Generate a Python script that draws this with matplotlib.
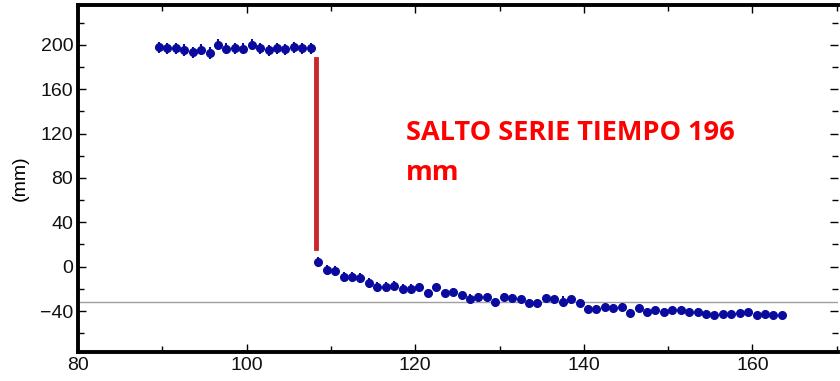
import numpy as np
import matplotlib
matplotlib.use("Agg")
import matplotlib.pyplot as plt
from matplotlib.ticker import MultipleLocator

# datos antes del salto
x_antes = [89.6, 90.6, 91.6, 92.6, 93.6, 94.6, 95.6, 96.6, 97.6, 98.6,
           99.6, 100.6, 101.6, 102.6, 103.6, 104.6, 105.6, 106.6, 107.6]
y_antes = [198, 197, 197, 195.5, 193.5, 195.5, 193, 200, 196.5, 197,
           196.5, 200, 197, 195, 197, 196, 198, 197, 197]
err_antes = [5, 5, 5, 5.5, 5, 5, 5.5, 5, 5, 5, 5, 5, 5, 5, 5, 5, 5, 5, 5]

# datos despues del salto
x_despues = [108.5 + i for i in range(56)]
y_despues = [4.5, -3, -4, -9.5, -9.5, -10.5, -15, -18.5, -18.5, -17,
             -20, -20, -18.5, -24, -18.5, -24, -22.5, -26, -29, -27,
             -27.5, -32, -27, -28, -29.5, -32.5, -33, -28.5, -29.5, -31.5,
             -29.5, -32.5, -38, -38, -36.5, -37.5, -36, -41.5, -37.5, -40.5,
             -39.5, -40.5, -39.5, -39.5, -40.5, -40.5, -42.5, -43.5, -43, -42.5,
             -42, -41, -43.5, -42.5, -44, -44]
err_despues = [4.5, 4.5, 4.5, 4.5, 4.5, 4.5, 4.5, 4.5, 4.5, 4.5,
               4.5, 4.5, 4, 3.5, 3, 3, 3, 3, 4, 3,
               3, 4, 3, 3, 3, 3, 3, 3, 3, 5,
               3, 3, 3, 3, 3, 4, 3, 3, 3, 3,
               3, 3, 3, 3, 3, 3, 3, 3, 3, 3,
               3, 3, 3, 3, 3, 3]

salto_x = 108.2
salto_y = [17, 187]
linea_ref = -32
texto = ['SALTO SERIE TIEMPO 196', 'mm']

fig = plt.figure(figsize=(8.4, 3.81), dpi=100)
ax = fig.add_axes([0.093, 0.076, 0.905, 0.911])

azul = '#0a0a9e'
ax.errorbar(x_antes, y_antes, yerr=err_antes, fmt='o', color=azul,
            ms=5.5, elinewidth=1.5, capsize=0, zorder=3)
ax.errorbar(x_despues, y_despues, yerr=err_despues, fmt='o', color=azul,
            ms=5.5, elinewidth=1.5, capsize=0, zorder=3)

ax.axhline(linea_ref, color='#a0a0a0', lw=1, zorder=1)
ax.plot([salto_x, salto_x], salto_y, color='#c8282c', lw=3.5, zorder=2)

# texto rojo en dos lineas
ax.text(118.9, 114, texto[0], color='#ff0000', fontsize=19.5,
        fontweight='bold', family='Open Sans', va='baseline', ha='left')
ax.text(118.9, 78, texto[1], color='#ff0000', fontsize=19.5,
        fontweight='bold', family='Open Sans', va='baseline', ha='left')

ax.set_xlim(80, 170.2)
ax.set_ylim(-77, 236)
ax.xaxis.set_major_locator(MultipleLocator(20))
ax.xaxis.set_minor_locator(MultipleLocator(10))
ax.yaxis.set_major_locator(MultipleLocator(40))
ax.yaxis.set_minor_locator(MultipleLocator(20))

for lado in ['left', 'bottom', 'top']:
    ax.spines[lado].set_linewidth(2.8)
ax.spines['right'].set_visible(False)

ax.tick_params(which='both', direction='in', top=True, right=True,
               labelsize=14, colors='black', labelcolor='#111111')
ax.tick_params(which='major', length=6, width=1)
ax.tick_params(which='minor', length=4, width=1)
for lbl in ax.get_xticklabels() + ax.get_yticklabels():
    lbl.set_family('Liberation Sans')

ax.set_ylabel('(mm)', fontsize=14, family='Liberation Sans', labelpad=8)

fig.savefig('out.png', dpi=100)
